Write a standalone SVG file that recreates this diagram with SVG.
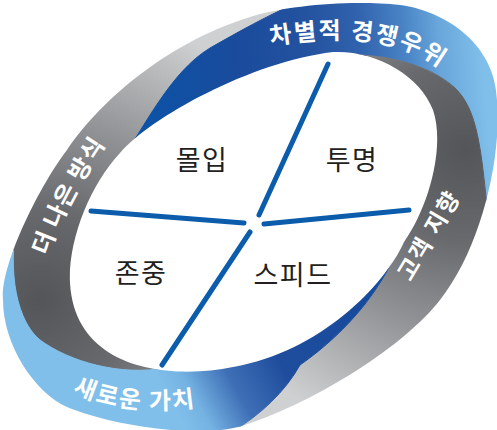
<svg xmlns="http://www.w3.org/2000/svg" width="497" height="430" viewBox="0 0 497 430">
<defs>
<style>
.band-label{font-family:"Noto Sans CJK KR","Noto Sans",sans-serif;font-weight:700;font-size:24px;fill:#ffffff;text-anchor:middle}
.quad{font-family:"Noto Sans CJK KR","Noto Sans",sans-serif;font-weight:400;font-size:27px;fill:#231f20;text-anchor:middle;letter-spacing:1.5px}
.divider{stroke:#0b5cab;stroke-width:5;stroke-linecap:round;fill:none}
.band{stroke-width:1}
</style>
<clipPath id="ringClip">
<path clip-rule="evenodd" d="M3,300 C0,265 40,185 67,150 C95,108 160,45 250,17 C290,5 350,0 400,5 C440,10 495,40 497,100 C502,160 480,250 440,300 C405,345 320,400 245,425 C200,440 110,425 67,407 C35,393 3,345 3,300 Z M333,52 C375,50 420,75 433,110 C445,145 430,205 404,242 C385,285 320,352 233,367 C170,380 75,370 70,283 C68,240 90,185 120,153 C150,118 250,62 333,52 Z"/>
</clipPath>
<radialGradient id="gGrayL" gradientUnits="userSpaceOnUse" cx="40" cy="300" r="300">
<stop offset="0" stop-color="#545558"/><stop offset="0.3" stop-color="#68696c"/><stop offset="0.6" stop-color="#929396"/><stop offset="1" stop-color="#cfd0d1"/>
</radialGradient>
<radialGradient id="gGrayR" gradientUnits="userSpaceOnUse" cx="465" cy="150" r="300">
<stop offset="0" stop-color="#545558"/><stop offset="0.3" stop-color="#68696c"/><stop offset="0.6" stop-color="#929396"/><stop offset="1" stop-color="#cfd0d1"/>
</radialGradient>
<linearGradient id="gBlueT" gradientUnits="userSpaceOnUse" x1="140" y1="120" x2="485" y2="90">
<stop offset="0" stop-color="#0b53a7"/><stop offset="0.3" stop-color="#1a4b9c"/><stop offset="0.5" stop-color="#23529f"/><stop offset="0.65" stop-color="#3062ad"/><stop offset="0.79" stop-color="#4b86c7"/><stop offset="0.88" stop-color="#68a6db"/><stop offset="1" stop-color="#80bfea"/>
</linearGradient>
<linearGradient id="gBlueB" gradientUnits="userSpaceOnUse" x1="170" y1="400" x2="420" y2="260">
<stop offset="0" stop-color="#80bfea"/><stop offset="0.08" stop-color="#74b2e2"/><stop offset="0.22" stop-color="#3e6fb6"/><stop offset="0.4" stop-color="#1f4d9d"/><stop offset="0.75" stop-color="#174a9c"/><stop offset="1" stop-color="#0b55a8"/>
</linearGradient>
<path id="pTop" d="M266,46 C335,34 410,34 452,80"/>
<path id="pBottom" d="M64,388 C100,408 155,416 208,404"/>
<path id="pLeft" d="M42,272 C58,225 78,185 110,138"/>
<path id="pRight" d="M395.5,307 C421.5,264 449.5,217 477.5,168"/>
</defs>
<rect width="497" height="430" fill="#ffffff"/>

<g id="band-better-way">
<path class="band" clip-path="url(#ringClip)" fill="url(#gGrayL)" stroke="url(#gGrayL)" d="M249,214 L165,368 C120,376 70,362 40,340 C18,322 6,275 18,212 L-600,205 L-600,-600 L412,-595 L292,5 C265,17 240,31 210,48 C170,72 143,130 123,157 Z"/>
<text class="band-label" letter-spacing="0.8"><textPath href="#pLeft" startOffset="80">더 나은 방식</textPath></text>
</g>

<g id="band-competitive-edge">
<path class="band" clip-path="url(#ringClip)" fill="url(#gBlueT)" stroke="url(#gBlueT)" d="M249,214 L123,157 C143,130 170,72 210,48 C240,31 265,17 292,5 L412,-595 L1100,-600 L1100,218 L488,215 C481,150 478,110 455,88 C430,65 380,50 325,56 Z"/>
<text class="band-label" letter-spacing="2"><textPath href="#pTop" startOffset="93">차별적 경쟁우위</textPath></text>
</g>

<g id="band-customer">
<path class="band" clip-path="url(#ringClip)" fill="url(#gGrayR)" stroke="url(#gGrayR)" d="M249,214 L325,56 C380,50 430,65 455,88 C478,110 481,150 488,215 L1100,218 L1100,1100 L185,1100 L232,432 C260,415 285,392 300,365 C350,330 385,285 401,240 Z"/>
<text class="band-label" style="font-size:23px" letter-spacing="2"><textPath href="#pRight" startOffset="79">고객 지향</textPath></text>
</g>

<g id="band-new-value">
<path class="band" clip-path="url(#ringClip)" fill="url(#gBlueB)" stroke="url(#gBlueB)" d="M249,214 L401,240 C385,285 350,330 300,365 C285,392 260,415 232,432 L185,1100 L-600,1100 L-600,205 L18,212 C6,275 18,322 40,340 C70,362 120,376 165,368 Z"/>
<text class="band-label" letter-spacing="1.8"><textPath href="#pBottom" startOffset="73">새로운 가치</textPath></text>
</g>

<g id="connectors">
<line class="divider" x1="91" y1="211" x2="244" y2="223"/>
<line class="divider" x1="328" y1="64" x2="259" y2="215"/>
<line class="divider" x1="264" y1="224" x2="409" y2="210"/>
<line class="divider" x1="250" y1="232" x2="162" y2="365"/>
</g>

<g id="node-immersion"><text class="quad" x="202" y="170">몰입</text></g>
<g id="node-transparency"><text class="quad" x="352" y="170">투명</text></g>
<g id="node-respect"><text class="quad" x="141" y="283">존중</text></g>
<g id="node-speed"><text class="quad" x="293" y="285">스피드</text></g>
</svg>
